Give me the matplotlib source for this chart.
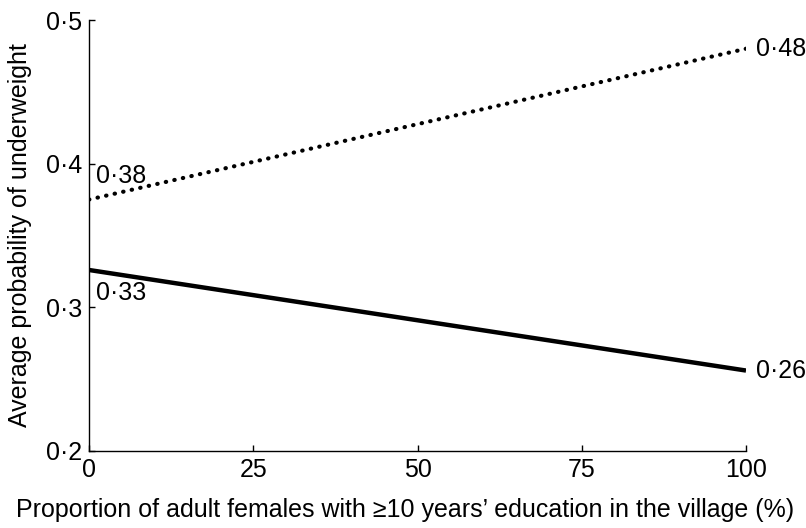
import matplotlib.pyplot as plt

plt.rcParams['font.family'] = ['Liberation Sans', 'DejaVu Sans']

# x values: proportion of educated adult females (%)
x_vals = [0, 100]
dotted_vals = [0.375, 0.48]
solid_vals = [0.326, 0.256]
dotted_labels = ['0\u00b738', '0\u00b748']
solid_labels = ['0\u00b733', '0\u00b726']
x_ticks = [0, 25, 50, 75, 100]
y_ticks = [0.2, 0.3, 0.4, 0.5]
y_tick_labels = ['0\u00b72', '0\u00b73', '0\u00b74', '0\u00b75']

fs = 18

fig = plt.figure(figsize=(8.06, 5.28), dpi=100)
ax = fig.add_axes([89 / 806, 77 / 528, 657 / 806, 431 / 528])

ax.plot(x_vals, dotted_vals, color='black', lw=3, linestyle=(0, (0.1, 2.0)),
        dash_capstyle='round', solid_capstyle='round')
ax.plot(x_vals, solid_vals, color='black', lw=3.2, solid_capstyle='butt')

ax.text(1, dotted_vals[0] + 0.008, dotted_labels[0], fontsize=fs, va='bottom', ha='left')
ax.text(101.5, dotted_vals[1], dotted_labels[1], fontsize=fs, va='center', ha='left')
ax.text(1, solid_vals[0] - 0.008, solid_labels[0], fontsize=fs, va='top', ha='left')
ax.text(101.5, solid_vals[1], solid_labels[1], fontsize=fs, va='center', ha='left')

ax.set_xlim(0, 100)
ax.set_ylim(0.2, 0.5)
ax.set_xticks(x_ticks)
ax.set_xticklabels([str(t) for t in x_ticks])
ax.set_yticks(y_ticks)
ax.set_yticklabels(y_tick_labels)
ax.tick_params(direction='in', length=4, width=1, labelsize=fs, pad=5)

for side in ['top', 'right']:
    ax.spines[side].set_visible(False)
for side in ['left', 'bottom']:
    ax.spines[side].set_linewidth(1)

ax.set_xlabel('Proportion of adult females with \u226510 years\u2019 education in the village (%)',
              fontsize=fs)
ax.xaxis.set_label_coords(0.481, -0.11)
ax.set_ylabel('Average probability of underweight', fontsize=fs, labelpad=10)

fig.savefig('out.png', dpi=100)
